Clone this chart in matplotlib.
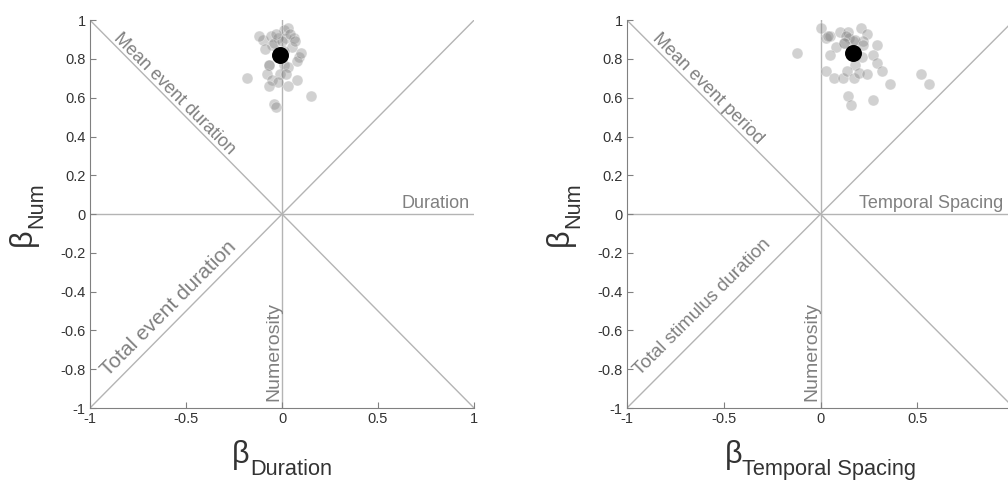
import numpy as np
import matplotlib.pyplot as plt

plt.rcParams['font.family'] = ['Liberation Sans', 'DejaVu Sans']

# Individual subject betas, panel 1 (Duration vs Numerosity)
dur_x = [-0.10, -0.06, -0.05, 0.01, 0.02, 0.05, 0.09, -0.07, 0.01, -0.02,
         0.06, 0.03, -0.18, -0.07, 0.03, -0.08, -0.01, 0.02, -0.05, -0.02,
         0.08, -0.07, 0.03, 0.15, -0.04, -0.03, 0.08, -0.12, -0.04, 0.00,
         0.04, -0.09, 0.07, 0.10, 0.01, -0.03]
dur_y = [0.90, 0.92, 0.87, 0.95, 0.91, 0.86, 0.81, 0.77, 0.77, 0.91,
         0.91, 0.96, 0.70, 0.77, 0.76, 0.72, 0.72, 0.72, 0.69, 0.68,
         0.69, 0.66, 0.66, 0.61, 0.57, 0.55, 0.79, 0.92, 0.88, 0.89,
         0.93, 0.85, 0.89, 0.83, 0.84, 0.93]
dur_mean = (-0.01, 0.82)

# Panel 2 (Temporal Spacing vs Numerosity)
ts_x = [0.00, -0.12, 0.03, 0.05, 0.10, 0.14, 0.145, 0.21, 0.24, 0.22,
        0.12, 0.17, 0.08, 0.05, 0.215, 0.29, 0.27, 0.29, 0.18, 0.03,
        0.07, 0.115, 0.135, 0.175, 0.20, 0.24, 0.32, 0.36, 0.52, 0.56,
        0.14, 0.27, 0.16, 0.13, 0.12, 0.04, 0.18, 0.22]
ts_y = [0.96, 0.83, 0.91, 0.92, 0.94, 0.94, 0.91, 0.96, 0.93, 0.89,
        0.88, 0.89, 0.86, 0.82, 0.81, 0.87, 0.82, 0.78, 0.77, 0.74,
        0.70, 0.70, 0.74, 0.70, 0.73, 0.72, 0.74, 0.67, 0.72, 0.67,
        0.61, 0.59, 0.56, 0.92, 0.88, 0.92, 0.90, 0.87]
ts_mean = (0.167, 0.83)

yticks = [-1, -0.8, -0.6, -0.4, -0.2, 0, 0.2, 0.4, 0.6, 0.8, 1]
ytick_labels = ['-1', '-0.8', '-0.6', '-0.4', '-0.2', '0', '0.2', '0.4', '0.6', '0.8', '1']
xticks = [-1, -0.5, 0, 0.5, 1]
xtick_labels_1 = ['-1', '-0.5', '0', '0.5', '1']
xtick_labels_2 = ['-1', '-0.5', '0', '0.5', '']

guide = '#b4b4b4'
txt = '#808080'
lab = '#333333'

fig = plt.figure(figsize=(10.08, 4.8), dpi=100)
ax1 = fig.add_axes([0.0893, 0.15, 0.381, 0.808])
ax2 = fig.add_axes([0.622, 0.15, 0.384, 0.808])
renderer = fig.canvas.get_renderer()


def text_width(s, size):
    t = fig.text(0, 0, s, fontsize=size)
    w = t.get_window_extent(renderer).width
    t.remove()
    return w


def beta_label(ax, sub, axis):
    # beta with a lowered subscript, built from two texts
    wb = text_width('β', 22)
    ws = text_width(sub, 15.7)
    j = -(ws - wb) / 2
    if axis == 'x':
        ax.annotate('β', xy=(0.5, 0), xycoords='axes fraction', xytext=(j, -55),
                    textcoords='offset pixels', fontsize=22, color=lab,
                    ha='right', va='baseline', annotation_clip=False)
        ax.annotate(sub, xy=(0.5, 0), xycoords='axes fraction', xytext=(j, -67),
                    textcoords='offset pixels', fontsize=15.7, color=lab,
                    ha='left', va='baseline', annotation_clip=False)
    else:
        ax.annotate('β', xy=(0, 0.5), xycoords='axes fraction', xytext=(-59, j),
                    textcoords='offset pixels', fontsize=22, color=lab, rotation=90,
                    rotation_mode='anchor', ha='right', va='baseline', annotation_clip=False)
        ax.annotate(sub, xy=(0, 0.5), xycoords='axes fraction', xytext=(-48, j),
                    textcoords='offset pixels', fontsize=15.7, color=lab, rotation=90,
                    rotation_mode='anchor', ha='left', va='baseline', annotation_clip=False)


panels = [
    (ax1, dur_x, dur_y, dur_mean, 'Duration', xtick_labels_1,
     ('Mean event duration', -0.56, 0.62, 13),
     ('Total event duration', -0.59, -0.485, 15),
     'Duration', 0.80),
    (ax2, ts_x, ts_y, ts_mean, 'Temporal Spacing', xtick_labels_2,
     ('Mean event period', -0.585, 0.645, 13),
     ('Total stimulus duration', -0.61, -0.48, 13.5),
     'Temporal Spacing', 0.57),
]

for ax, xs, ys, mean, xname, xtl, d1, d2, hname, hx in panels:
    # guide lines
    ax.plot([-1, 1], [0, 0], color=guide, lw=1, zorder=1)
    ax.plot([0, 0], [-1, 1], color=guide, lw=1, zorder=1)
    ax.plot([-1, 1], [1, -1], color=guide, lw=1, zorder=1)
    ax.plot([-1, 1], [-1, 1], color=guide, lw=1, zorder=1)

    ax.scatter(xs, ys, s=62, color='#808080', alpha=0.36, edgecolors='white',
               linewidths=0.6, zorder=2)
    ax.scatter([mean[0]], [mean[1]], s=125, color='black', zorder=3)

    ax.text(d1[1], d1[2], d1[0], rotation=-45, color=txt, fontsize=d1[3],
            ha='center', va='center', rotation_mode='anchor')
    ax.text(d2[1], d2[2], d2[0], rotation=45, color=txt, fontsize=d2[3],
            ha='center', va='center', rotation_mode='anchor')
    ax.text(-0.045, -0.71, 'Numerosity', rotation=90, color=txt, fontsize=14,
            ha='center', va='center')
    ax.text(hx, 0.01, hname, color=txt, fontsize=13, ha='center', va='bottom')

    ax.set_xlim(-1, 1)
    ax.set_ylim(-1, 1)
    ax.set_xticks(xticks)
    ax.set_xticklabels(xtl)
    ax.set_yticks(yticks)
    ax.set_yticklabels(ytick_labels)
    ax.tick_params(direction='in', length=4, colors='#808080', labelcolor='#333333',
                   labelsize=10.5, pad=3)
    for s in ['top', 'right']:
        ax.spines[s].set_visible(False)
    for s in ['left', 'bottom']:
        ax.spines[s].set_color('#808080')

    beta_label(ax, xname, 'x')
    beta_label(ax, 'Num', 'y')

fig.savefig('out.png', dpi=100)
